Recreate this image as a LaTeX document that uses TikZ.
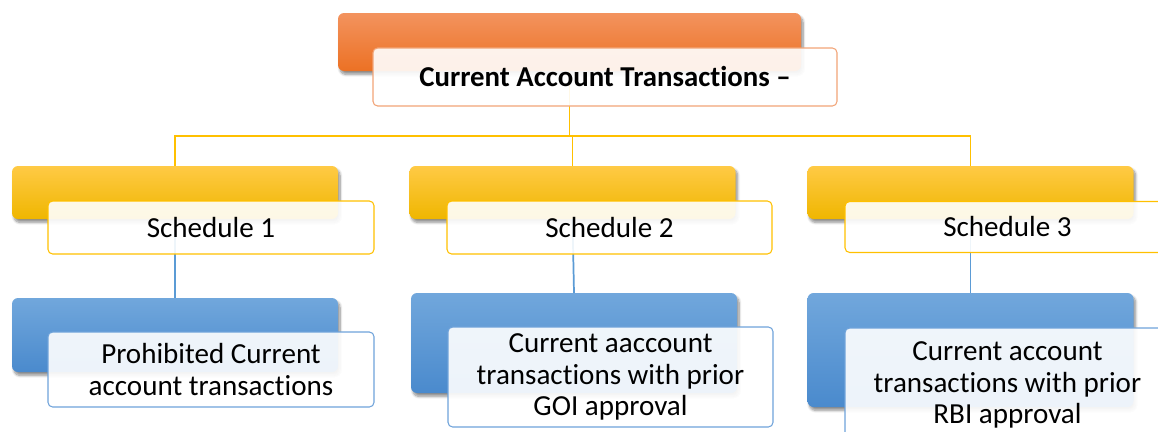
\documentclass[tikz,border=0pt]{standalone}
\usepackage{fontspec}
\setmainfont{Carlito}[RawFeature={-liga;-clig;-calt;-dlig}]
\usetikzlibrary{shadows.blur}
\definecolor{orT}{HTML}{F3935E}
\definecolor{orB}{HTML}{EC7124}
\definecolor{orE}{HTML}{F2A477}
\definecolor{ylT}{HTML}{FFCA45}
\definecolor{ylB}{HTML}{EFB600}
\definecolor{ylE}{HTML}{FFC000}
\definecolor{blT}{HTML}{71A7DC}
\definecolor{blB}{HTML}{4A8ACD}
\definecolor{blE}{HTML}{6FA3DA}
\definecolor{blL}{HTML}{5B9BD5}
\tikzset{
  base/.style={rectangle, inner sep=0pt, outer sep=0pt},
  colbox/.style={base, rounded corners=4.5pt, draw=none,
     blur shadow={shadow xshift=1.5pt, shadow yshift=-2.5pt, shadow blur steps=8, shadow opacity=45}},
  orbox/.style={colbox, top color=orT, bottom color=orB},
  ylbox/.style={colbox, top color=ylT, bottom color=ylB},
  blbox/.style={colbox, top color=blT, bottom color=blB},
  txtbox/.style={base, rounded corners=3.5pt, fill=white, fill opacity=0.9, text opacity=1,
     line width=0.8pt, align=center, font=\fontsize{21.8}{23.4}\selectfont, text=black},
  yline/.style={draw=ylE, line width=1.3pt},
  bline/.style={draw=blL, line width=1.3pt},
}
\begin{document}
\begin{tikzpicture}[x=0.75pt, y=-0.75pt]
\useasboundingbox (0,0) rectangle (1158,432);
\clip (0,0) rectangle (1158,432);
% coloured back boxes
\node[orbox, minimum width=347.25pt, minimum height=43.5pt] (O) at (569.5,42) {};
\node[ylbox, minimum width=244.5pt, minimum height=39.75pt] (Y1) at (175,192.5) {};
\node[ylbox, minimum width=244.5pt, minimum height=39.75pt] (Y2) at (572.5,192.5) {};
\node[ylbox, minimum width=244.5pt, minimum height=39.75pt] (Y3) at (970.5,192.5) {};
\node[blbox, minimum width=244.5pt, minimum height=55.5pt] (B1) at (175,335) {};
\node[blbox, minimum width=244.5pt, minimum height=75pt] (B2) at (574,343) {};
\node[blbox, minimum width=244.5pt, minimum height=85.5pt] (B3) at (970.5,350) {};
% connectors
\coordinate (bus) at (569.5,136);
\draw[yline] (O.south) -- (O.south |- bus);
\draw[yline] (Y1.north) -- (Y1.north |- bus) -- (Y3.north |- bus) -- (Y3.north);
\draw[yline] (Y2.north) -- (Y2.north |- bus);
\draw[bline] (Y1.south) -- (B1.north);
\draw[bline] (Y2.south) -- (B2.north);
\draw[bline] (Y3.south) -- (B3.north);
% text boxes
\node[txtbox, draw=orE, minimum width=348pt, minimum height=43.5pt, font=\fontsize{21.6}{23.3}\selectfont\bfseries] (T) at (605,77) {Current Account Transactions --};
\node[txtbox, draw=ylE, minimum width=244.5pt, minimum height=39.75pt] (S1) at (211,227.5) {Schedule 1};
\node[txtbox, draw=ylE, minimum width=243.75pt, minimum height=39.75pt] (S2) at (609.5,227.5) {Schedule 2};
\node[txtbox, draw=ylE, minimum width=243.75pt, minimum height=38.25pt] (S3) at (1007.5,227) {Schedule 3};
\node[txtbox, draw=blE, minimum width=244.5pt, minimum height=56.25pt] (W1) at (211,369.5) {Prohibited Current\\account transactions};
\node[txtbox, draw=blE, minimum width=243.75pt, minimum height=75pt] (W2) at (610.5,377) {Current aaccount\\transactions with prior\\GOI approval};
\node[txtbox, draw=blE, minimum width=243.75pt, minimum height=85.5pt] (W3) at (1007.5,385) {Current account\\transactions with prior\\RBI approval};
\end{tikzpicture}
\end{document}
